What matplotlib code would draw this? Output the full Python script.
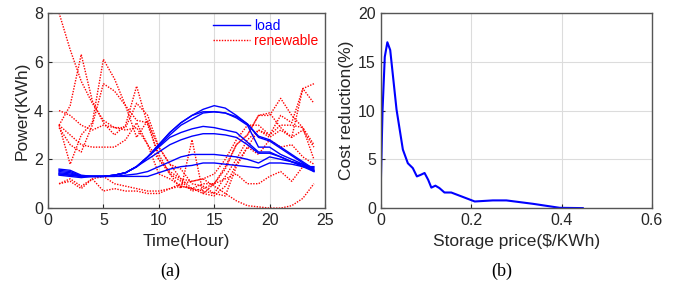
import numpy as np
import matplotlib
matplotlib.use('Agg')
import matplotlib.pyplot as plt

# (a) 시간별 부하 / 재생에너지
hours = list(range(1, 25))

load_curves = [
    [1.6, 1.55, 1.35, 1.3, 1.3, 1.35, 1.45, 1.7, 2.1, 2.6, 3.1, 3.5, 3.8, 4.05, 4.2, 4.1, 3.8, 3.45, 2.95, 2.8, 2.5, 2.2, 1.9, 1.6],
    [1.5, 1.45, 1.3, 1.3, 1.3, 1.35, 1.45, 1.7, 2.1, 2.6, 3.1, 3.5, 3.8, 3.95, 3.95, 3.9, 3.7, 3.4, 2.5, 2.5, 2.2, 2.0, 1.8, 1.5],
    [1.55, 1.5, 1.32, 1.3, 1.3, 1.35, 1.45, 1.7, 2.1, 2.55, 3.0, 3.4, 3.65, 3.9, 3.95, 3.9, 3.75, 3.45, 2.9, 2.75, 2.45, 2.15, 1.85, 1.55],
    [1.45, 1.4, 1.3, 1.3, 1.3, 1.35, 1.45, 1.7, 2.1, 2.5, 2.9, 3.1, 3.25, 3.35, 3.3, 3.2, 3.1, 2.7, 2.3, 2.3, 2.1, 1.9, 1.75, 1.55],
    [1.4, 1.35, 1.3, 1.3, 1.3, 1.35, 1.45, 1.7, 2.0, 2.3, 2.6, 2.8, 2.95, 3.05, 3.05, 3.0, 2.9, 2.6, 2.25, 2.25, 2.1, 1.9, 1.7, 1.5],
    [1.4, 1.35, 1.3, 1.3, 1.3, 1.3, 1.35, 1.4, 1.5, 1.7, 1.9, 2.1, 2.2, 2.2, 2.2, 2.15, 2.1, 2.0, 1.85, 2.1, 2.0, 1.9, 1.8, 1.65],
    [1.35, 1.3, 1.25, 1.3, 1.3, 1.3, 1.3, 1.3, 1.3, 1.45, 1.6, 1.7, 1.75, 1.85, 1.85, 1.8, 1.75, 1.7, 1.65, 1.85, 1.85, 1.8, 1.7, 1.7],
]

renewable_curves = [
    [8.0, 6.5, 5.2, 4.3, 3.6, 3.3, 3.3, 4.3, 3.8, 2.5, 1.8, 1.2, 0.8, 0.6, 0.5, 0.9, 1.8, 2.5, 3.2, 3.0, 3.8, 3.5, 4.9, 5.1],
    [3.4, 4.2, 6.3, 4.4, 3.5, 3.0, 3.4, 5.0, 3.4, 2.2, 1.4, 1.1, 0.7, 0.8, 1.0, 1.6, 2.6, 3.0, 3.8, 3.8, 4.5, 3.8, 3.3, 2.6],
    [3.4, 1.8, 3.0, 3.5, 6.1, 5.3, 4.2, 2.9, 3.6, 2.0, 1.4, 0.8, 2.8, 0.6, 1.0, 1.7, 2.6, 3.0, 3.8, 3.9, 3.3, 2.9, 4.9, 4.3],
    [4.0, 3.8, 3.4, 3.2, 3.4, 3.3, 3.2, 3.3, 2.6, 2.0, 1.5, 1.2, 1.1, 1.2, 1.4, 2.0, 2.8, 3.4, 3.4, 3.0, 3.4, 3.4, 3.3, 2.0],
    [3.3, 2.6, 2.3, 3.4, 5.1, 4.8, 4.2, 3.6, 3.5, 2.5, 1.8, 1.6, 1.0, 0.9, 0.6, 1.3, 2.0, 2.8, 3.2, 2.9, 3.2, 2.9, 3.2, 2.5],
    [1.0, 1.2, 0.9, 1.2, 0.7, 0.8, 0.7, 0.7, 0.6, 0.6, 0.8, 1.0, 1.1, 1.2, 0.9, 0.6, 0.3, 0.1, 0.05, 0.0, 0.0, 0.1, 0.4, 1.0],
    [1.0, 1.1, 0.8, 1.2, 1.3, 1.0, 0.9, 0.8, 0.7, 0.7, 0.8, 0.9, 0.8, 1.0, 1.0, 1.2, 1.4, 1.0, 1.0, 1.3, 1.5, 1.1, 1.7, 1.6],
    [3.4, 3.0, 2.6, 2.5, 2.5, 2.5, 2.8, 3.5, 2.6, 1.4, 1.2, 0.9, 0.8, 0.7, 0.6, 0.5, 1.7, 2.5, 2.2, 2.8, 2.5, 2.6, 2.1, 1.8],
]

# (b) 저장 가격별 비용 절감
storage_price = [0, 0.004, 0.009, 0.0147, 0.021, 0.035, 0.049, 0.06, 0.071, 0.08, 0.088, 0.097,
                 0.105, 0.112, 0.121, 0.13, 0.141, 0.156, 0.19, 0.208, 0.248, 0.278, 0.337, 0.396, 0.447]
cost_reduction = [2.0, 10.0, 15.5, 17.0, 16.2, 10.1, 6.0, 4.6, 4.1, 3.25, 3.4, 3.6,
                  2.9, 2.1, 2.3, 2.05, 1.6, 1.6, 1.0, 0.68, 0.79, 0.79, 0.44, 0.03, 0.0]

plt.rcParams['font.family'] = ['Liberation Sans', 'DejaVu Sans']
text_col = '#262626'

fig = plt.figure(figsize=(6.73, 2.82), dpi=100)
ax1 = fig.add_axes([0.0713, 0.262, 0.4116, 0.692])
ax2 = fig.add_axes([0.5657, 0.262, 0.403, 0.692])

for i, c in enumerate(renewable_curves):
    ax1.plot(hours, c, color='red', linestyle=(0, (1, 1)), linewidth=1.0,
             label='renewable' if i == 0 else None, zorder=2)
for i, c in enumerate(load_curves):
    ax1.plot(hours, c, color='blue', linewidth=1.0,
             label='load' if i == 0 else None, zorder=3)

ax1.set_xlim(0, 25)
ax1.set_ylim(0, 8)
ax1.set_xticks([0, 5, 10, 15, 20, 25])
ax1.set_yticks([0, 2, 4, 6, 8])
ax1.set_xlabel('Time(Hour)', fontsize=12.5, labelpad=4, color=text_col)
ax1.set_ylabel('Power(KWh)', fontsize=12.5, labelpad=3, color=text_col)
h, l = ax1.get_legend_handles_labels()
ax1.legend(h[::-1], l[::-1], loc='upper right', frameon=False, fontsize=10,
           handlelength=2.7, labelcolor='linecolor', borderaxespad=0.05,
           labelspacing=0.05, handletextpad=0.3)
fig.text(0.253, 0.02, '(a)', fontsize=13, family='Liberation Serif', ha='center')

ax2.plot(storage_price, cost_reduction, color='blue', linewidth=1.5)
ax2.set_xlim(0, 0.6)
ax2.set_ylim(0, 20)
ax2.set_xticks([0, 0.2, 0.4, 0.6])
ax2.set_xticklabels(['0', '0.2', '0.4', '0.6'])
ax2.set_yticks([0, 5, 10, 15, 20])
ax2.set_xlabel('Storage price($/KWh)', fontsize=12.5, labelpad=4, color=text_col)
ax2.set_ylabel('Cost reduction(%)', fontsize=12.5, labelpad=3, color=text_col)
fig.text(0.745, 0.02, '(b)', fontsize=13, family='Liberation Serif', ha='center')

for ax in (ax1, ax2):
    ax.grid(True, color='#dcdcdc', linewidth=0.8)
    ax.set_axisbelow(True)
    ax.tick_params(direction='in', labelsize=11.5, colors=text_col, length=3)
    for s in ax.spines.values():
        s.set_color('#555555')
        s.set_linewidth(1.0)

fig.savefig('out.png', dpi=100)
